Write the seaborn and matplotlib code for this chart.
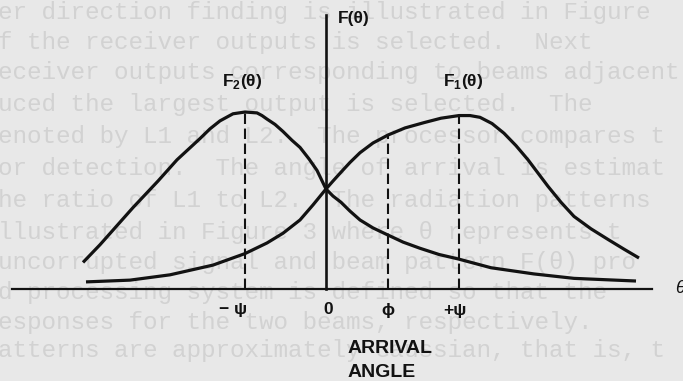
import matplotlib
matplotlib.use("Agg")
import matplotlib.pyplot as plt
import seaborn as sns
import pandas as pd

# Arrival angle (arbitrary units, 0 = boresight) and beam responses
angle_f2 = [-24.3, -22.6, -19.3, -16.8, -14.9, -12.6, -11.6, -10.6, -9.3, -8.1,
            -6.9, -6.4, -5.9, -5.1, -4.3, -3.4, -2.6, -1.7, -0.9, 0.0, 0.7, 1.5,
            2.4, 3.4, 4.7, 6.0, 7.7, 9.4, 11.3, 13.2, 16.5, 20.8, 24.8, 31.0]
resp_f2 = [0.15, 0.25, 0.46, 0.61, 0.73, 0.85, 0.905, 0.95, 0.99, 1.00,
           0.995, 0.98, 0.96, 0.93, 0.89, 0.84, 0.80, 0.735, 0.67, 0.565, 0.525, 0.49,
           0.44, 0.39, 0.345, 0.31, 0.265, 0.23, 0.195, 0.17, 0.12, 0.085, 0.06, 0.045]

angle_f1 = [-24.0, -19.6, -15.6, -11.3, -8.1, -5.9, -4.3, -2.6, -1.3, 0.0, 0.7,
            1.5, 2.4, 3.4, 4.7, 6.2, 7.9, 9.8, 11.5, 13.3, 14.4, 15.4, 16.6, 17.8,
            19.0, 20.2, 21.2, 22.2, 23.5, 24.8, 26.5, 28.2, 29.8, 31.3]
resp_f1 = [0.04, 0.05, 0.08, 0.135, 0.20, 0.26, 0.315, 0.39, 0.475, 0.565, 0.61,
           0.66, 0.715, 0.77, 0.825, 0.87, 0.91, 0.94, 0.965, 0.98, 0.98, 0.97, 0.935, 0.88,
           0.81, 0.73, 0.655, 0.58, 0.49, 0.41, 0.34, 0.28, 0.225, 0.175]

# Marked angles on the horizontal axis
psi_minus, phi, psi_plus = -8.1, 6.2, 13.3
tick_text = ["\u2212 \u03c8", "0", "\u03d5", "+\u03c8"]

page_lines = [
    "er direction finding is illustrated in Figure",
    "f the receiver outputs is selected.  Next",
    "eceiver outputs corresponding to beams adjacent",
    "uced the largest output is selected.  The",
    "enoted by L1 and L2.  The processor compares t",
    "or detection.  The angle of arrival is estimat",
    "he ratio of L1 to L2.  The radiation patterns",
    "llustrated in Figure 3 where \u03b8 represents t",
    "uncorrupted signal and beam pattern F(\u03b8) pro",
    "d processing system is defined so that the",
    "esponses for the two beams, respectively.",
    "atterns are approximately Gaussian, that is, t",
]
page_rows = [13, 43, 73, 105, 137, 168, 200, 232, 263, 293, 322, 351]

sns.set_theme(style="white")
plt.rcParams["font.family"] = ["Liberation Sans", "DejaVu Sans"]
plt.rcParams["mathtext.fontset"] = "custom"
plt.rcParams["mathtext.bf"] = "Liberation Sans:bold"
plt.rcParams["mathtext.rm"] = "Liberation Sans:bold"

W, H = 683, 381
fig = plt.figure(figsize=(W / 100, H / 100), dpi=100)
fig.patch.set_facecolor("#e8e8e8")

# faint typewritten page behind the figure
for txt, row in zip(page_lines, page_rows):
    fig.text(-2 / W, 1 - row / H, txt, family=["Liberation Mono", "DejaVu Sans Mono"],
             fontsize=17.5, color="#d2d2d2", va="center", ha="left", zorder=-1)

ax = fig.add_axes([0, 0, 1, 1])
ax.patch.set_alpha(0)
ax.set_xlim(-32.6, 35.7)
ax.set_ylim(-0.52, 1.633)

ink = "#121212"
df2 = pd.DataFrame({"angle": angle_f2, "F": resp_f2})
df1 = pd.DataFrame({"angle": angle_f1, "F": resp_f1})
sns.lineplot(data=df2, x="angle", y="F", ax=ax, color=ink, lw=2.3, sort=False,
             solid_capstyle="butt", solid_joinstyle="round")
sns.lineplot(data=df1, x="angle", y="F", ax=ax, color=ink, lw=2.3, sort=False,
             solid_capstyle="butt", solid_joinstyle="round")

# dashed drop lines from the curves to the axis
peak_f2 = max(resp_f2)
peak_f1 = max(resp_f1)
phi_level = resp_f1[angle_f1.index(phi)]
for xv, top in [(psi_minus, peak_f2), (phi, phi_level), (psi_plus, peak_f1)]:
    ax.plot([xv, xv], [0, top], color=ink, lw=1.5, dashes=(5, 2.2))

# axes drawn through the origin
for s in ["top", "right"]:
    ax.spines[s].set_visible(False)
ax.spines["left"].set_position(("data", 0))
ax.spines["left"].set_bounds(0, 1.55)
ax.spines["left"].set_linewidth(1.9)
ax.spines["left"].set_color(ink)
ax.spines["bottom"].set_position(("data", 0))
ax.spines["bottom"].set_bounds(-31.4, 32.6)
ax.spines["bottom"].set_linewidth(1.6)
ax.spines["bottom"].set_color(ink)
ax.set_xticks([])
ax.set_yticks([])
ax.set_xlabel("")
ax.set_ylabel("")

lab = dict(color=ink, fontweight="bold")
ax.text(psi_minus - 1.2, -0.115, tick_text[0], ha="center", va="center", fontsize=12.5, **lab)
ax.text(0.2, -0.115, tick_text[1], ha="center", va="center", fontsize=12.5, **lab)
ax.text(phi, -0.12, tick_text[2], ha="center", va="center", fontsize=12.5, **lab)
ax.text(psi_plus - 0.4, -0.12, tick_text[3], ha="center", va="center", fontsize=12.5, **lab)

ax.text(1.2, 1.53, "F(\u03b8)", ha="left", va="center", fontsize=12.5, **lab)
ax.text(-8.4, 1.17, "F$_{\\mathbf{2}}$(\u03b8)", ha="center", va="center", fontsize=12.5, **lab)
ax.text(13.7, 1.17, "F$_{\\mathbf{1}}$(\u03b8)", ha="center", va="center", fontsize=12.5, **lab)
ax.text(34.9, 0.0, "\u03b8", ha="left", va="center", fontsize=13, color=ink,
        fontstyle="italic")

ax.text(2.2, -0.335, "ARRIVAL", ha="left", va="center", fontsize=14, **lab)
ax.text(2.2, -0.47, "ANGLE", ha="left", va="center", fontsize=14, **lab)

fig.savefig("out.png", dpi=100, facecolor=fig.get_facecolor())
